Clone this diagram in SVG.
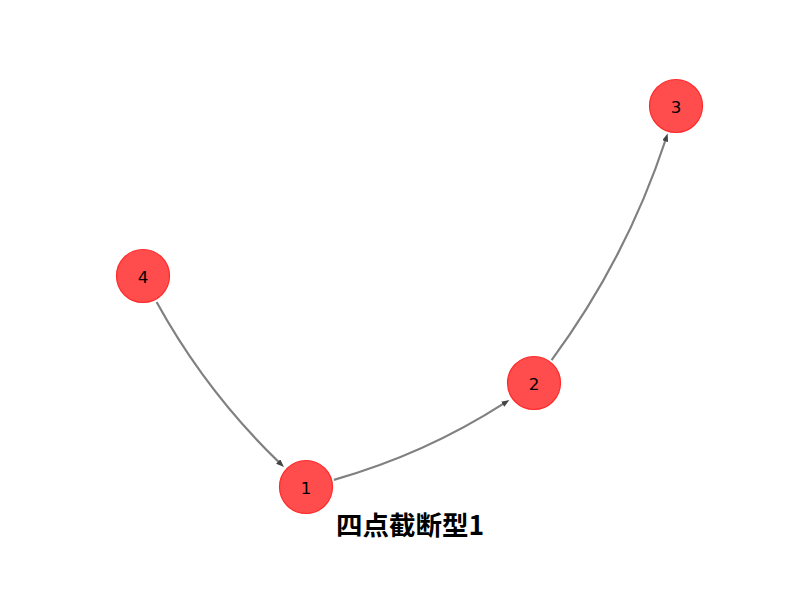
<svg xmlns="http://www.w3.org/2000/svg" width="800" height="600" viewBox="0 0 800 600">
<style>
.edge{fill:none;stroke:#808080;stroke-width:2.2}
.node circle{fill:#ff4d4d;stroke:#ff2a2a;stroke-width:1.2}
.node text{font-family:"DejaVu Sans",sans-serif;font-size:16.7px;fill:#000;text-anchor:middle;dominant-baseline:central}
.title{font-family:"Noto Sans CJK SC","Noto Sans CJK JP",sans-serif;font-size:26.5px;font-weight:bold;fill:#000;text-anchor:middle}
</style>
<defs>
<marker id="arr" viewBox="0 0 8 6" markerWidth="8" markerHeight="6" refX="2" refY="3" orient="auto" markerUnits="userSpaceOnUse">
<path d="M0,0 L8,3 L0,6 z" fill="#444"/>
</marker>
</defs>
<rect width="800" height="600" fill="#fff"/>
<g id="edges">
<path class="edge" d="M156.6,302 Q206,391.9 279.65,462.9" marker-end="url(#arr)"/>
<path class="edge" d="M333.9,479.85 Q424.9,454.2 504.36,403.18" marker-end="url(#arr)"/>
<path class="edge" d="M551.6,360.06 Q626.4,258.7 665.8,139.24" marker-end="url(#arr)"/>
</g>
<g id="node1" class="node"><circle cx="306" cy="487" r="26.5"/><text x="306" y="488">1</text></g>
<g id="node2" class="node"><circle cx="534" cy="383" r="26.5"/><text x="534" y="384">2</text></g>
<g id="node3" class="node"><circle cx="676" cy="106" r="26.5"/><text x="676" y="107">3</text></g>
<g id="node4" class="node"><circle cx="143" cy="276" r="26.5"/><text x="143" y="277">4</text></g>
<text class="title" x="410" y="535">四点截断型1</text>
</svg>
